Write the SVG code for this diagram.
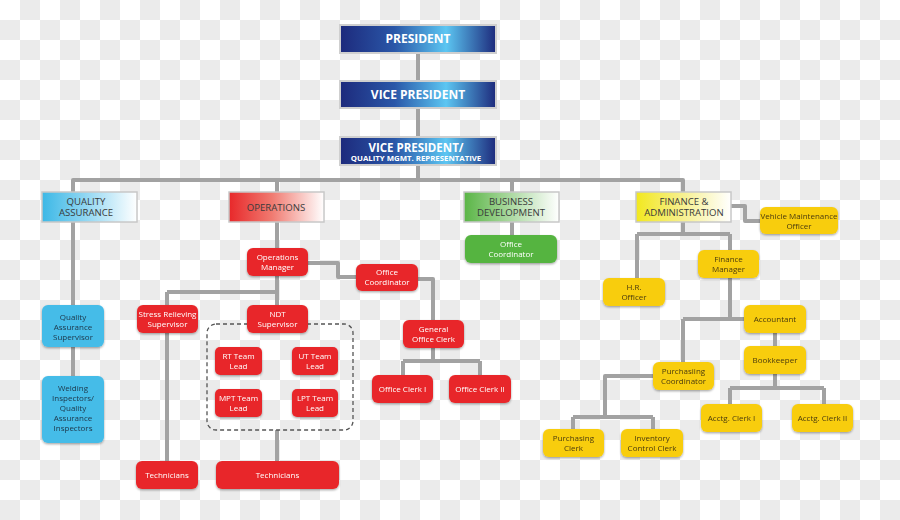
<svg xmlns="http://www.w3.org/2000/svg" width="900" height="520" viewBox="0 0 900 520">
<defs>
<pattern id="chk" width="40" height="40" patternUnits="userSpaceOnUse">
<rect width="40" height="40" fill="#ffffff"/>
<rect x="20" y="0" width="20" height="20" fill="#ebebeb"/>
<rect x="0" y="20" width="20" height="20" fill="#ebebeb"/>
</pattern>
<linearGradient id="gBlue" x1="0" y1="0" x2="1" y2="0">
<stop offset="0" stop-color="#1d2a7c"/>
<stop offset="0.35" stop-color="#2a57a8"/>
<stop offset="0.68" stop-color="#5cc6f2"/>
<stop offset="1" stop-color="#1d2a7c"/>
</linearGradient>
<linearGradient id="gCyan" x1="0" y1="0" x2="1" y2="0">
<stop offset="0" stop-color="#3cb8e6"/>
<stop offset="0.45" stop-color="#8fd6f2"/>
<stop offset="1" stop-color="#ffffff"/>
</linearGradient>
<linearGradient id="gRed" x1="0" y1="0" x2="1" y2="0">
<stop offset="0" stop-color="#e8282a"/>
<stop offset="0.45" stop-color="#f07a70"/>
<stop offset="1" stop-color="#ffffff"/>
</linearGradient>
<linearGradient id="gGreen" x1="0" y1="0" x2="1" y2="0">
<stop offset="0" stop-color="#5ab546"/>
<stop offset="0.45" stop-color="#a5d69a"/>
<stop offset="1" stop-color="#ffffff"/>
</linearGradient>
<linearGradient id="gYellow" x1="0" y1="0" x2="1" y2="0">
<stop offset="0" stop-color="#f2e81e"/>
<stop offset="0.45" stop-color="#f6ef86"/>
<stop offset="1" stop-color="#ffffff"/>
</linearGradient>
<filter id="sh" x="-10%" y="-10%" width="120%" height="140%">
<feDropShadow dx="0" dy="1.2" stdDeviation="0.8" flood-color="#000" flood-opacity="0.35"/>
</filter>
</defs>
<style>
.top{stroke:#cfcfcf;stroke-width:2;fill:url(#gBlue)}
.dept{stroke:#c8c8c8;stroke-width:1.5}
.n{filter:url(#sh)}
.red{fill:#e8282b}
.grn{fill:#55b43f}
.yel{fill:#f8cd0c}
.cyn{fill:#45bce8}
text{font-family:"Open Sans","Noto Sans","Liberation Sans",sans-serif;text-anchor:middle}
.tt{fill:#ffffff;font-weight:bold;font-size:12px}
.tt2{fill:#ffffff;font-weight:bold;font-size:11.5px}
.ts{fill:#ffffff;font-weight:bold;font-size:7.8px}
.td{fill:#3a3a3a;font-size:9.6px}
.tw{fill:#ffffff;font-size:8px}
.tk{fill:#4a3b10;font-size:8px}
.tc{fill:#1d3548;font-size:8px}
.ln{fill:none;stroke:#a2a2a2;stroke-width:4;stroke-linejoin:round}
.dash{fill:none;stroke:#555555;stroke-width:1.3;stroke-dasharray:4 3}
</style>
<rect width="900" height="520" fill="url(#chk)"/>
<g id="connectors">
<path class="ln" d="M418 53V81M418 108V137M418 165V180"/>
<path class="ln" d="M73 192V180H683V192M277 180V192M512 180V192"/>
<path class="ln" d="M73 222V305M73 347V376"/>
<path class="ln" d="M277 222V248M277 276V292M167 292H277M167 292V305M277 292V305"/>
<path class="ln" d="M308 263H338V277H356"/>
<path class="ln" d="M418 279H433V320M433 348V361M403 361H480M403 361V375M480 361V375"/>
<path class="ln" d="M167 333V461M277 430V461"/>
<path class="ln" d="M512 222V235"/>
<path class="ln" d="M731 206H745V221H760"/>
<path class="ln" d="M683 222V234M637 234H730M637 234V278M730 234V250"/>
<path class="ln" d="M730 278V319H744M683 319H730M683 319V362"/>
<path class="ln" d="M775 333V346M775 374V388M730 388H824M730 388V404M824 388V404"/>
<path class="ln" d="M653 376H605V417M573 417H653M573 417V429M653 417V429"/>
</g>
<rect id="ndt-group" class="dash" x="207" y="324" width="146" height="106" rx="9"/>
<g id="president"><rect class="top" x="340" y="25" width="156" height="28"/><text class="tt" x="418" y="43">PRESIDENT</text></g>
<g id="vice-president"><rect class="top" x="340" y="81" width="156" height="27"/><text class="tt" x="418" y="99">VICE PRESIDENT</text></g>
<g id="vp-qmr"><rect class="top" x="340" y="137" width="156" height="28"/><text class="tt2" x="416" y="151.5">VICE PRESIDENT/</text><text class="ts" x="416" y="161">QUALITY MGMT. REPRESENTATIVE</text></g>
<g id="quality-assurance"><rect class="dept" x="42" y="192" width="95" height="30" fill="url(#gCyan)"/><text class="td" x="86" y="204.5">QUALITY</text><text class="td" x="86" y="216">ASSURANCE</text></g>
<g id="operations"><rect class="dept" x="229" y="192" width="95" height="30" fill="url(#gRed)"/><text class="td" x="276" y="210.5">OPERATIONS</text></g>
<g id="business-development"><rect class="dept" x="464" y="192" width="95" height="30" fill="url(#gGreen)"/><text class="td" x="511" y="204.5">BUSINESS</text><text class="td" x="511" y="216">DEVELOPMENT</text></g>
<g id="finance-administration"><rect class="dept" x="636" y="192" width="95" height="30" fill="url(#gYellow)"/><text class="td" x="684" y="204.5">FINANCE &amp;</text><text class="td" x="684" y="216">ADMINISTRATION</text></g>
<g id="qa-supervisor" class="n"><rect class="cyn" x="42" y="305" width="62" height="42" rx="6"/><text class="tc" x="73" y="320">Quality</text><text class="tc" x="73" y="330">Assurance</text><text class="tc" x="73" y="340">Supervisor</text></g>
<g id="welding-inspectors" class="n"><rect class="cyn" x="42" y="376" width="62" height="67" rx="6"/><text class="tc" x="73" y="391">Welding</text><text class="tc" x="73" y="401">Inspectors/</text><text class="tc" x="73" y="411">Quality</text><text class="tc" x="73" y="421">Assurance</text><text class="tc" x="73" y="431">Inspectors</text></g>
<g id="operations-manager" class="n"><rect class="red" x="247" y="248" width="61" height="28" rx="6"/><text class="tw" x="277.5" y="260">Operations</text><text class="tw" x="277.5" y="270">Manager</text></g>
<g id="ops-office-coordinator" class="n"><rect class="red" x="356" y="264" width="62" height="27" rx="6"/><text class="tw" x="387" y="275">Office</text><text class="tw" x="387" y="285">Coordinator</text></g>
<g id="general-office-clerk" class="n"><rect class="red" x="403" y="320" width="61" height="28" rx="6"/><text class="tw" x="433.5" y="332">General</text><text class="tw" x="433.5" y="342">Office Clerk</text></g>
<g id="office-clerk-1" class="n"><rect class="red" x="372" y="375" width="61" height="28" rx="6"/><text class="tw" x="402.5" y="392">Office Clerk I</text></g>
<g id="office-clerk-2" class="n"><rect class="red" x="449" y="375" width="62" height="28" rx="6"/><text class="tw" x="480" y="392">Office Clerk II</text></g>
<g id="stress-relieving-supervisor" class="n"><rect class="red" x="137" y="305" width="61" height="28" rx="6"/><text class="tw" x="167.5" y="317">Stress Relieving</text><text class="tw" x="167.5" y="327">Supervisor</text></g>
<g id="ndt-supervisor" class="n"><rect class="red" x="247" y="305" width="61" height="28" rx="6"/><text class="tw" x="277.5" y="317">NDT</text><text class="tw" x="277.5" y="327">Supervisor</text></g>
<g id="rt-team-lead" class="n"><rect class="red" x="215" y="347" width="47" height="28" rx="5"/><text class="tw" x="238.5" y="359">RT Team</text><text class="tw" x="238.5" y="369">Lead</text></g>
<g id="ut-team-lead" class="n"><rect class="red" x="292" y="347" width="46" height="28" rx="5"/><text class="tw" x="315" y="359">UT Team</text><text class="tw" x="315" y="369">Lead</text></g>
<g id="mpt-team-lead" class="n"><rect class="red" x="215" y="389" width="47" height="28" rx="5"/><text class="tw" x="238.5" y="401">MPT Team</text><text class="tw" x="238.5" y="411">Lead</text></g>
<g id="lpt-team-lead" class="n"><rect class="red" x="292" y="389" width="46" height="28" rx="5"/><text class="tw" x="315" y="401">LPT Team</text><text class="tw" x="315" y="411">Lead</text></g>
<g id="technicians-1" class="n"><rect class="red" x="136" y="461" width="62" height="28" rx="6"/><text class="tw" x="167" y="478">Technicians</text></g>
<g id="technicians-2" class="n"><rect class="red" x="216" y="461" width="123" height="28" rx="6"/><text class="tw" x="277.5" y="478">Technicians</text></g>
<g id="bd-office-coordinator" class="n"><rect class="grn" x="465" y="235" width="92" height="28" rx="6"/><text class="tw" x="511" y="247">Office</text><text class="tw" x="511" y="257">Coordinator</text></g>
<g id="vehicle-maintenance-officer" class="n"><rect class="yel" x="760" y="207" width="78" height="27" rx="6"/><text class="tk" x="799" y="219">Vehicle Maintenance</text><text class="tk" x="799" y="229">Officer</text></g>
<g id="finance-manager" class="n"><rect class="yel" x="698" y="250" width="61" height="28" rx="6"/><text class="tk" x="728.5" y="262">Finance</text><text class="tk" x="728.5" y="272">Manager</text></g>
<g id="hr-officer" class="n"><rect class="yel" x="603" y="278" width="62" height="28" rx="6"/><text class="tk" x="634" y="290">H.R.</text><text class="tk" x="634" y="300">Officer</text></g>
<g id="accountant" class="n"><rect class="yel" x="744" y="305" width="62" height="28" rx="6"/><text class="tk" x="775" y="322">Accountant</text></g>
<g id="bookkeeper" class="n"><rect class="yel" x="744" y="346" width="62" height="28" rx="6"/><text class="tk" x="775" y="363">Bookkeeper</text></g>
<g id="purchasing-coordinator" class="n"><rect class="yel" x="653" y="362" width="61" height="28" rx="6"/><text class="tk" x="683.5" y="374">Purchasiing</text><text class="tk" x="683.5" y="384">Coordinator</text></g>
<g id="acctg-clerk-1" class="n"><rect class="yel" x="701" y="404" width="61" height="28" rx="6"/><text class="tk" x="731.5" y="421">Acctg. Clerk I</text></g>
<g id="acctg-clerk-2" class="n"><rect class="yel" x="792" y="404" width="61" height="28" rx="6"/><text class="tk" x="822.5" y="421">Acctg. Clerk II</text></g>
<g id="purchasing-clerk" class="n"><rect class="yel" x="543" y="429" width="61" height="28" rx="6"/><text class="tk" x="573.5" y="441">Purchasing</text><text class="tk" x="573.5" y="451">Clerk</text></g>
<g id="inventory-control-clerk" class="n"><rect class="yel" x="621" y="429" width="62" height="28" rx="6"/><text class="tk" x="652" y="441">Inventory</text><text class="tk" x="652" y="451">Control Clerk</text></g>
</svg>
